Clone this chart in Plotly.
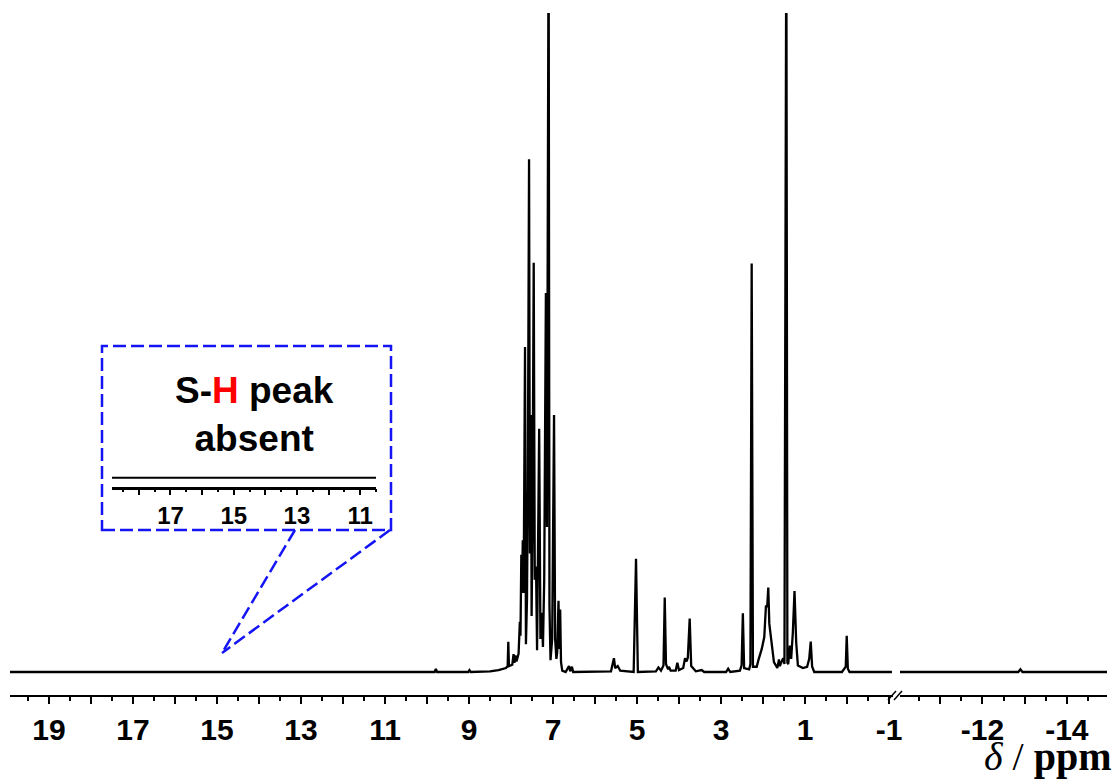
import plotly.graph_objects as go

W, H = 1116, 780

# ---------------- data ----------------
# Left part of the 1H NMR spectrum: chemical shift (ppm) and intensity (% of plot height)
ppm_left = [19.93, 12.00, 9.82, 9.79, 9.76, 9.02, 8.99, 8.96, 8.50, 8.30,
            8.12, 8.08, 8.065, 8.05, 7.97, 7.94, 7.92, 7.895, 7.87, 7.82,
            7.79, 7.775, 7.755, 7.74, 7.72, 7.70, 7.667, 7.645, 7.62, 7.60,
            7.571, 7.55, 7.525, 7.51, 7.49, 7.46, 7.435, 7.405, 7.38, 7.33,
            7.30, 7.27, 7.24, 7.21, 7.17, 7.145, 7.115, 7.105, 7.085, 7.06,
            7.02, 6.976, 6.95, 6.92, 6.90, 6.87, 6.85, 6.83, 6.81, 6.78,
            6.70, 6.62, 6.59, 6.55, 6.52, 6.20, 5.62, 5.55, 5.52, 5.46,
            5.40, 5.08, 5.024, 4.98, 4.55, 4.49, 4.43, 4.37, 4.34, 4.31,
            4.26, 4.24, 4.20, 4.08, 4.04, 4.00, 3.90, 3.857, 3.82, 3.79,
            3.746, 3.71, 3.60, 3.46, 3.40, 2.88, 2.83, 2.78, 2.55, 2.51,
            2.48, 2.45, 2.33, 2.30, 2.27, 2.24, 2.15, 2.11, 2.03, 1.97,
            1.93, 1.90, 1.875, 1.85, 1.80, 1.74, 1.66, 1.62, 1.60, 1.56,
            1.52, 1.49, 1.46, 1.445, 1.42, 1.40, 1.36, 1.33, 1.29, 1.25,
            1.21, 1.17, 1.05, 0.95, 0.90, 0.864, 0.83, 0.78, 0.12, 0.06,
            0.03, 0.007, -0.02, -0.06, -1.07]
int_left = [0.0, 0.0, 0.0, 0.45, 0.0, 0.0, 0.3, 0.0, 0.1, 0.3,
            0.6, 0.9, 4.6, 0.9, 1.1, 2.7, 1.4, 2.5, 1.6, 2.8,
            7.6, 5.5, 17.8, 12.0, 20.0, 12.0, 49.3, 4.2, 11.0, 28.0,
            77.8, 18.0, 39.0, 8.5, 22.0, 62.1, 14.0, 16.0, 3.3, 36.9,
            5.0, 9.0, 3.8, 14.0, 57.5, 22.0, 115.0, 115.0, 10.0, 1.8,
            5.0, 39.0, 5.0, 2.0, 3.0, 10.8, 3.5, 9.5, 1.5, 0.2,
            0.0, 0.9, 0.1, 0.8, 0.0, 0.0, 0.1, 2.1, 0.6, 0.9,
            0.2, 0.0, 17.2, 0.0, 0.1, 0.7, 0.2, 1.0, 11.3, 1.2,
            0.4, 0.8, 0.2, 0.2, 1.4, 0.3, 0.6, 2.1, 1.6, 2.2,
            8.1, 0.9, 0.1, 0.3, 0.0, 0.0, 0.5, 0.0, 0.2, 1.0,
            8.9, 0.6, 0.4, 1.2, 62.0, 0.8, 0.8, 1.8, 3.5, 5.3,
            10.1, 9.9, 12.8, 7.3, 4.3, 1.5, 0.6, 1.9, 0.9, 1.5,
            2.1, 1.2, 115.0, 115.0, 1.4, 1.2, 4.0, 2.0, 6.0, 12.3,
            4.5, 1.0, 0.6, 0.8, 2.0, 4.6, 0.8, 0.0, 0.0, 0.5,
            0.8, 5.5, 0.5, 0.0, 0.0]

# Right part of the spectrum (after the axis break)
ppm_right = [-10.05, -12.85, -12.90, -12.95, -14.95]
int_right = [0.0, 0.0, 0.4, 0.0, 0.0]

# Inset: the empty 18.8 - 10.5 ppm window
ppm_inset = [18.85, 10.5]
int_inset = [0.0, 0.0]

# Tick values / labels
left_major = list(range(19, -2, -1))
left_labels = [str(v) if v % 2 else "" for v in left_major]
left_minor = [v + 0.5 for v in range(-2, 20)]
right_major = [-11, -12, -13, -14]
right_labels = ["", "-12", "", "-14"]
right_minor = [-10.5, -11.5, -12.5, -13.5, -14.5]
inset_major = [18, 17, 16, 15, 14, 13, 12, 11]
inset_labels = ["", "17", "", "15", "", "13", "", "11"]
inset_minor = [18.5, 17.5, 16.5, 15.5, 14.5, 13.5, 12.5, 11.5, 10.5]

inset_text = "S-<span style='color:#ff0000'>H</span> peak<br>absent"
axis_title = "<i>δ</i> / <b>ppm</b>"

# ---------------- helpers ----------------
def px(x):
    return x / W

def py(y):
    return 1 - y / H

SANS = "Liberation Sans, Arial, sans-serif"
SERIF = "Liberation Serif, Times New Roman, serif"
BLUE = "#1414f5"

line_style = dict(color="black", width=2.3)

fig = go.Figure()
fig.add_trace(go.Scatter(x=ppm_left, y=int_left, xaxis="x", yaxis="y", mode="lines",
                         line=line_style, hoverinfo="skip", showlegend=False))
fig.add_trace(go.Scatter(x=ppm_right, y=int_right, xaxis="x2", yaxis="y", mode="lines",
                         line=line_style, hoverinfo="skip", showlegend=False))
fig.add_trace(go.Scatter(x=ppm_inset, y=int_inset, xaxis="x3", yaxis="y3", mode="lines",
                         line=dict(color="black", width=2), hoverinfo="skip", showlegend=False))

main_tickfont = dict(family=SANS, size=30, color="black", weight="bold")
inset_tickfont = dict(family=SANS, size=24, color="black", weight="bold")

def xaxis_cfg(domain, rng, vals, texts, minor_vals, anchor, font, ticklen, minorlen, lw, standoff):
    return dict(domain=domain, range=rng, anchor=anchor,
                showline=True, linecolor="black", linewidth=lw,
                ticks="outside", ticklen=ticklen, tickwidth=2, tickcolor="black",
                tickmode="array", tickvals=vals, ticktext=texts, tickfont=font,
                ticklabelstandoff=standoff,
                minor=dict(tickmode="array", tickvals=minor_vals, ticks="outside",
                           ticklen=minorlen, tickwidth=2, tickcolor="black", showgrid=False),
                showgrid=False, zeroline=False, automargin=False, fixedrange=True)

fig.update_layout(
    width=W, height=H,
    margin=dict(l=0, r=0, t=0, b=0),
    paper_bgcolor="white", plot_bgcolor="white",
    xaxis=xaxis_cfg([px(10), px(893)], [19.93, -1.095], left_major, left_labels,
                    left_minor, "y", main_tickfont, 7, 4, 2, 0),
    xaxis2=xaxis_cfg([px(900), px(1107)], [-10.05, -14.95], right_major, right_labels,
                     right_minor, "y", main_tickfont, 7, 4, 2, 0),
    xaxis3=xaxis_cfg([px(112), px(376)], [18.85, 10.5], inset_major, inset_labels,
                     inset_minor, "y3", inset_tickfont, 6, 3, 2.5, 0),
    yaxis=dict(domain=[py(695), py(13)], range=[-3.49, 100], visible=False,
               fixedrange=True),
    yaxis3=dict(domain=[py(486.7), py(468.7)], range=[-1, 1], visible=False,
                fixedrange=True),
)

dash = "13px,5px"
shapes = [
    # inset box
    dict(type="rect", xref="paper", yref="paper", x0=px(102), x1=px(391),
         y0=py(530), y1=py(346), line=dict(color=BLUE, width=2.5, dash=dash),
         fillcolor="rgba(0,0,0,0)", layer="above"),
    # connector lines
    dict(type="line", xref="paper", yref="paper", x0=px(295), y0=py(530),
         x1=px(222), y1=py(653), line=dict(color=BLUE, width=2.5, dash=dash)),
    dict(type="line", xref="paper", yref="paper", x0=px(390), y0=py(530),
         x1=px(222), y1=py(653), line=dict(color=BLUE, width=2.5, dash=dash)),
    # axis break marks
    dict(type="line", xref="paper", yref="paper", x0=px(888), y0=py(700),
         x1=px(896), y1=py(691), line=dict(color="black", width=1.5)),
    dict(type="line", xref="paper", yref="paper", x0=px(894), y0=py(700),
         x1=px(902), y1=py(691), line=dict(color="black", width=1.5)),
]
fig.update_layout(shapes=shapes)

fig.add_annotation(x=px(254), y=py(414), xref="paper", yref="paper",
                   text=inset_text, showarrow=False, xanchor="center", yanchor="middle",
                   font=dict(family=SANS, size=37, color="black", weight="bold"))
fig.add_annotation(x=px(1114), y=py(756), xref="paper", yref="paper",
                   text=axis_title, showarrow=False, xanchor="right", yanchor="middle",
                   font=dict(family=SERIF, size=40, color="black"))

fig.write_html("out.html")
